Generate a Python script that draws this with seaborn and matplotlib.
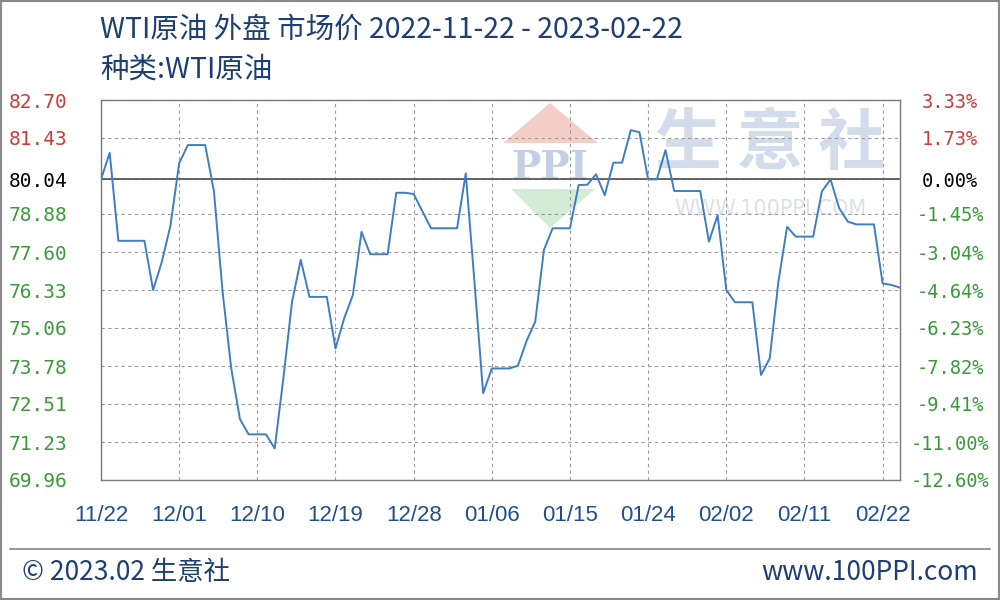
import pandas as pd
import matplotlib
matplotlib.use("Agg")
import matplotlib.pyplot as plt
from matplotlib.patches import Rectangle, Polygon
from matplotlib.lines import Line2D
import seaborn as sns

sns.set_style("white")
plt.rcParams['font.family'] = ['Noto Sans CJK SC', 'DejaVu Sans']

# WTI price, vertices
dates = ["2022-11-22", "2022-11-23", "2022-11-24", "2022-11-27", "2022-11-28", "2022-11-29",
         "2022-11-30", "2022-12-01", "2022-12-02", "2022-12-04", "2022-12-05", "2022-12-06",
         "2022-12-07", "2022-12-08", "2022-12-09", "2022-12-11", "2022-12-12", "2022-12-13",
         "2022-12-14", "2022-12-15", "2022-12-16", "2022-12-18", "2022-12-19", "2022-12-20",
         "2022-12-21", "2022-12-22", "2022-12-23", "2022-12-25", "2022-12-26", "2022-12-27",
         "2022-12-28", "2022-12-30", "2023-01-02", "2023-01-03", "2023-01-04", "2023-01-05",
         "2023-01-06", "2023-01-08", "2023-01-09", "2023-01-10", "2023-01-11", "2023-01-12",
         "2023-01-13", "2023-01-15", "2023-01-16", "2023-01-17", "2023-01-18", "2023-01-19",
         "2023-01-20", "2023-01-21", "2023-01-22", "2023-01-23", "2023-01-24", "2023-01-25",
         "2023-01-26", "2023-01-27", "2023-01-30", "2023-01-31", "2023-02-01", "2023-02-02",
         "2023-02-03", "2023-02-05", "2023-02-06", "2023-02-07", "2023-02-08", "2023-02-09",
         "2023-02-10", "2023-02-12", "2023-02-13", "2023-02-14", "2023-02-15", "2023-02-16",
         "2023-02-17", "2023-02-19", "2023-02-20", "2023-02-21", "2023-02-22"]
prices = [80.04, 80.93, 77.98, 77.98, 76.33, 77.27,
          78.49, 80.58, 81.19, 81.19, 79.65, 76.27,
          73.70, 72.00, 71.49, 71.49, 71.02, 73.37,
          75.94, 77.34, 76.10, 76.10, 74.37, 75.38,
          76.16, 78.28, 77.53, 77.53, 79.59, 79.59,
          79.55, 78.40, 78.40, 80.24, 76.61, 72.87,
          73.70, 73.70, 73.79, 74.62, 75.27, 77.67,
          78.40, 78.40, 79.85, 79.86, 80.21, 79.51,
          80.60, 80.60, 81.69, 81.62, 80.04, 80.04,
          81.02, 79.65, 79.65, 77.95, 78.84, 76.33,
          75.92, 75.92, 73.48, 74.04, 76.61, 78.45,
          78.12, 78.12, 79.63, 80.04, 79.07, 78.62,
          78.53, 78.53, 76.55, 76.50, 76.41]

base_price = 80.04
left_ticks = [82.70, 81.43, 80.04, 78.88, 77.60, 76.33, 75.06, 73.78, 72.51, 71.23, 69.96]
right_labels = ["3.33%", "1.73%", "0.00%", "-1.45%", "-3.04%", "-4.64%",
                "-6.23%", "-7.82%", "-9.41%", "-11.00%", "-12.60%"]
x_tick_dates = ["2022-11-22", "2022-12-01", "2022-12-10", "2022-12-19", "2022-12-28",
                "2023-01-06", "2023-01-15", "2023-01-24", "2023-02-02", "2023-02-11",
                "2023-02-20"]
x_tick_labels = ["11/22", "12/01", "12/10", "12/19", "12/28", "01/06",
                 "01/15", "01/24", "02/02", "02/11", "02/22"]

df = pd.DataFrame({"date": pd.to_datetime(dates), "price": prices})

RED = "#cc3b3b"
GREEN = "#3a9a3a"
NAVY = "#1d3f73"


def px(x, y):
    return (x / 1000, 1 - y / 600)


fig = plt.figure(figsize=(10, 6), dpi=100)
ax = fig.add_axes([0.101, 0.2, 0.799, 0.6333])

# watermark
wm = dict(transform=fig.transFigure, zorder=0.2)
ax.add_patch(Polygon([px(550, 103), px(503, 143), px(598, 143)], closed=True,
                     fc="#f4cfc7", ec="none", **wm))
ax.add_patch(Polygon([px(511, 189), px(595, 189), px(550, 228)], closed=True,
                     fc="#d3ecd6", ec="none", **wm))
ax.text(*px(550, 168), "PPI", ha="center", va="center", fontsize=28, color="#c3cfe3",
        family="DejaVu Serif", fontweight="bold", **wm)
ax.text(*px(770, 145), "生 意 社", ha="center", va="center", fontsize=48,
        fontweight="bold", color="#d3dcea", **wm)
ax.text(*px(770, 209), "WWW.100PPI.COM", ha="center", va="center", fontsize=15,
        color="#dde1e6", family="DejaVu Sans", **wm)

sns.lineplot(data=df, x="date", y="price", ax=ax, color="#3d7ec4", linewidth=1.4,
             zorder=3)

ax.set_xlim(pd.Timestamp("2022-11-22"), pd.Timestamp("2023-02-22"))
ax.set_ylim(left_ticks[-1], left_ticks[0])
ax.set_xlabel("")
ax.set_ylabel("")

ax.set_xticks(pd.to_datetime(x_tick_dates))
ax.set_xticklabels(x_tick_labels, color="#1f4f8c", fontsize=16, family="Liberation Sans")
ax.tick_params(axis="x", length=0, pad=18)

ax.set_yticks(left_ticks)
ax.set_yticklabels([f"{v:.2f}" for v in left_ticks], family="DejaVu Sans Mono", fontsize=14)
ax.tick_params(axis="y", length=0, pad=24)
for lab, v in zip(ax.get_yticklabels(), left_ticks):
    lab.set_color(RED if v > base_price else ("black" if v == base_price else GREEN))

ax.grid(True, color="#9a9a9a", linestyle=(0, (3, 3)), linewidth=0.8)
ax.set_axisbelow(True)
ax.axhline(base_price, color="#5a5a5a", linewidth=1.3, zorder=2)
for s in ax.spines.values():
    s.set_color("#7a7a7a")
    s.set_linewidth(1.0)

ax2 = ax.twinx()
ax2.set_ylim(ax.get_ylim())
ax2.set_yticks(left_ticks)
ax2.set_yticklabels(right_labels, family="DejaVu Sans Mono", fontsize=13.5)
ax2.tick_params(axis="y", length=0, pad=36)
for lab in ax2.get_yticklabels():
    t = lab.get_text()
    lab.set_ha("center")
    lab.set_color(GREEN if t.startswith("-") else ("black" if t == "0.00%" else RED))
for s in ax2.spines.values():
    s.set_visible(False)

# titles
fig.text(*px(100, 30), "WTI原油 外盘 市场价 2022-11-22 - 2023-02-22", fontsize=20.5,
         color=NAVY, va="center", ha="left")
fig.text(*px(100, 70), "种类:WTI原油", fontsize=20.5, color=NAVY, va="center", ha="left")

# footer
fig.add_artist(Line2D([0.01, 0.99], [1 - 549 / 600] * 2, color="#9a9a9a", linewidth=1.5,
                      transform=fig.transFigure))
fig.text(*px(22, 572), "© 2023.02 生意社", fontsize=19, color=NAVY, va="center", ha="left")
fig.text(*px(978, 572), "www.100PPI.com", fontsize=19, color=NAVY, va="center", ha="right")

fig.patches.append(Rectangle((0, 0), 1, 1, transform=fig.transFigure, fill=False,
                             edgecolor="#8a8a8a", linewidth=3))

fig.savefig("out.png", dpi=100)
